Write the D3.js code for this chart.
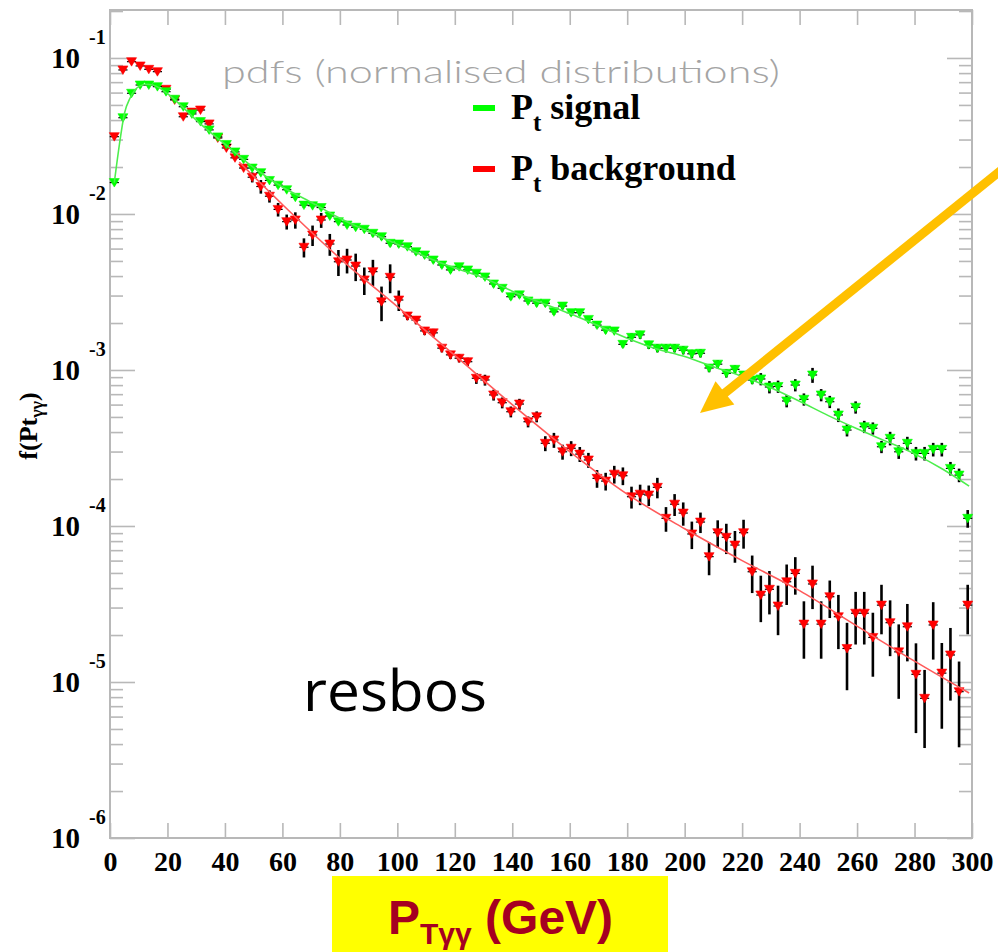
<!DOCTYPE html>
<html><head><meta charset="utf-8">
<script src="https://cdn.jsdelivr.net/npm/d3@7/dist/d3.min.js"></script>
<style>body{margin:0;background:#fff}svg{display:block}</style>
</head><body>
<svg id="chart" width="998" height="952"></svg>
<script>
// ---------- data ----------
const ptBins = [1.5,4.5,7.5,10.5,13.5,16.5,19.5,22.5,25.5,28.5,31.5,34.5,37.5,40.5,43.5,46.5,49.5,52.5,55.5,58.5,
 61.5,64.5,67.5,70.5,73.5,76.5,79.5,82.5,85.5,88.5,91.5,94.5,97.5,100.5,103.5,106.5,109.5,112.5,115.5,118.5,
 121.5,124.5,127.5,130.5,133.5,136.5,139.5,142.5,145.5,148.5,151.5,154.5,157.5,160.5,163.5,166.5,169.5,172.5,175.5,178.5,
 181.5,184.5,187.5,190.5,193.5,196.5,199.5,202.5,205.5,208.5,211.5,214.5,217.5,220.5,223.5,226.5,229.5,232.5,235.5,238.5,
 241.5,244.5,247.5,250.5,253.5,256.5,259.5,262.5,265.5,268.5,271.5,274.5,277.5,280.5,283.5,286.5,289.5,292.5,295.5,298.5];

const signalValues = [0.0159,0.0414,0.0594,0.0671,0.0671,0.0655,0.0608,0.0544,0.0487,0.0438,
 0.0391,0.0346,0.0312,0.0279,0.0250,0.0224,0.0197,0.0184,0.0164,0.0153,
 0.0143,0.0128,0.0114,0.0113,0.0110,0.00971,0.00893,0.00850,0.00822,0.00798,
 0.00752,0.00715,0.00649,0.00642,0.00617,0.00573,0.00546,0.00507,0.00471,0.00438,
 0.00459,0.00438,0.00417,0.00395,0.00356,0.00334,0.00295,0.00303,0.00277,0.00268,
 0.00268,0.00236,0.00257,0.00233,0.00233,0.00211,0.00194,0.00180,0.00178,0.00146,
 0.00162,0.00168,0.00145,0.00138,0.00138,0.00138,0.00134,0.00127,0.00128,0.00103,
 0.00109,0.000952,0.00101,0.000929,0.000863,0.000876,0.000778,0.000784,0.000633,0.000801,
 0.000649,0.000929,0.000692,0.000626,0.000515,0.000412,0.000577,0.000433,0.000423,0.000322,
 0.000365,0.000299,0.000339,0.000292,0.000292,0.000310,0.000310,0.000234,0.000212,0.000112];

const signalRelErr = [0.035,0.035,0.035,0.035,0.035,0.035,0.035,0.035,0.035,0.035,
 0.035,0.035,0.035,0.035,0.035,0.035,0.035,0.035,0.035,0.035,
 0.035,0.035,0.035,0.035,0.035,0.035,0.035,0.035,0.035,0.035,
 0.045,0.045,0.045,0.045,0.045,0.045,0.045,0.045,0.045,0.045,
 0.045,0.045,0.045,0.045,0.045,0.045,0.045,0.045,0.045,0.045,
 0.045,0.045,0.045,0.045,0.045,0.045,0.045,0.045,0.045,0.045,
 0.06,0.06,0.06,0.06,0.06,0.06,0.06,0.06,0.06,0.06,
 0.06,0.06,0.06,0.06,0.06,0.09,0.09,0.09,0.09,0.09,
 0.09,0.11,0.09,0.09,0.10,0.09,0.09,0.09,0.09,0.09,
 0.10,0.10,0.10,0.10,0.10,0.10,0.10,0.10,0.10,0.13];

const backgroundValues = [0.0313,0.0838,0.0947,0.0889,0.0846,0.0817,0.0630,0.0538,0.0420,0.0450,
 0.0464,0.0378,0.0307,0.0265,0.0229,0.0197,0.0172,0.0150,0.0130,0.0107,
 0.00893,0.00915,0.00612,0.00733,0.00915,0.00642,0.00494,0.00507,0.00464,0.00378,
 0.00427,0.00274,0.00393,0.00281,0.00222,0.00209,0.00178,0.00173,0.00138,0.00125,
 0.00119,0.00113,0.000885,0.000863,0.000692,0.000617,0.000540,0.000605,0.000466,0.000502,
 0.000339,0.000356,0.000299,0.000315,0.000289,0.000265,0.000202,0.000194,0.000215,0.000210,
 0.000154,0.000160,0.000158,0.000177,0.000112,0.000138,0.000121,0.0000889,0.000106,0.0000636,
 0.0000906,0.0000847,0.0000755,0.0000906,0.0000509,0.0000361,0.0000393,0.0000307,0.0000439,0.0000497,
 0.0000235,0.0000425,0.0000235,0.0000352,0.0000262,0.0000164,0.0000276,0.0000276,0.0000193,0.0000311,
 0.0000240,0.0000156,0.0000226,0.0000112,0.00000786,0.0000232,0.0000114,0.0000149,0.00000867,0.0000311];

const backgroundRelErr = [0.03,0.03,0.03,0.03,0.03,0.03,0.03,0.03,0.03,0.03,
 0.03,0.03,0.03,0.03,0.03,0.03,0.074,0.10,0.09,0.10,
 0.11,0.12,0.14,0.15,0.11,0.16,0.19,0.18,0.20,0.20,
 0.19,0.25,0.21,0.15,0.06,0.06,0.06,0.06,0.06,0.06,
 0.06,0.06,0.08,0.08,0.08,0.08,0.08,0.08,0.08,0.08,
 0.11,0.11,0.11,0.11,0.11,0.11,0.13,0.13,0.13,0.13,
 0.16,0.15,0.15,0.15,0.18,0.16,0.17,0.20,0.15,0.24,
 0.20,0.22,0.23,0.21,0.27,0.33,0.31,0.35,0.29,0.27,
 0.40,0.31,0.40,0.27,0.38,0.46,0.37,0.37,0.44,0.35,
 0.39,0.50,0.40,0.58,0.52,0.40,0.56,0.49,0.56,0.35];

// fitted curves
const signalFitPt = [1.5,3.5,5,7,10,13,16,20,25,30,40,50,60,70,80,90,100,110,120,130,140,150,160,170,180,190,200,210,220,230,240,250,260,270,280,290,299];
const signalFitVal = [0.0159,0.0298,0.044,0.0554,0.0655,0.0678,0.066,0.059,0.049,0.040,0.028,0.0198,0.0149,0.0119,0.0094,0.0077,0.0064,0.0053,0.0045,0.0039,0.0032,0.0027,0.0023,0.00192,0.00160,0.00137,0.00122,0.00105,0.00091,0.00077,0.00063,0.00051,0.00042,0.00035,0.00029,0.00023,0.000180];
const backgroundFitPt = [45,60,80,100,120,140,160,180,200,220,240,260,280,299];
const backgroundFitVal = [0.0215,0.0115,0.0052,0.00255,0.00124,0.00060,0.000300,0.000160,0.0000960,0.0000600,0.0000385,0.0000228,0.0000136,0.0000085];

const xTickValues = [0,20,40,60,80,100,120,140,160,180,200,220,240,260,280,300];
const yDecades = [1e-1,1e-2,1e-3,1e-4,1e-5,1e-6];
const yExponents = ["-1","-2","-3","-4","-5","-6"];

const titleText = "pdfs (normalised distributions)";
const legendLabels = ["signal","background"];
const legendColors = ["#00ff00","#ff0000"];

// ---------- drawing ----------
const svg = d3.select("#chart");
const L = 110, R = 972, T = 10, B = 838;
const x = d3.scaleLinear().domain([0,300]).range([L,R]);
const y = d3.scaleLog().domain([1e-6,0.203]).range([B,T]);

svg.append("rect").attr("width",998).attr("height",952).attr("fill","#fff");

const axisColor = "#b8b8b8";
function styleAxis(g){
  g.select(".domain").remove();
  g.selectAll(".tick line").attr("stroke",axisColor).attr("stroke-width",1.6);
}
const minorTicks = y.ticks().filter(v => yDecades.indexOf(v) < 0 && v <= 0.203 && v >= 1e-6);

// left axis
svg.append("g").attr("transform",`translate(${L},0)`)
  .call(d3.axisLeft(y).tickValues(yDecades).tickSize(-25).tickFormat("")).call(styleAxis);
svg.append("g").attr("transform",`translate(${L},0)`)
  .call(d3.axisLeft(y).tickValues(minorTicks).tickSize(-13).tickFormat("")).call(styleAxis);
// right axis
svg.append("g").attr("transform",`translate(${R},0)`)
  .call(d3.axisRight(y).tickValues(yDecades).tickSize(-25).tickFormat("")).call(styleAxis);
svg.append("g").attr("transform",`translate(${R},0)`)
  .call(d3.axisRight(y).tickValues(minorTicks).tickSize(-13).tickFormat("")).call(styleAxis);
// top axis
svg.append("g").attr("transform",`translate(0,${T})`)
  .call(d3.axisTop(x).tickValues(xTickValues).tickSize(-15).tickFormat("")).call(styleAxis);
// bottom axis
const xb = svg.append("g").attr("transform",`translate(0,${B})`)
  .call(d3.axisBottom(x).tickValues(xTickValues).tickSize(-15).tickPadding(13).tickFormat(d3.format("d")))
  .call(styleAxis);
xb.selectAll(".tick text").attr("fill","#000")
  .attr("font-family","'Liberation Serif', 'Times New Roman', serif")
  .attr("font-weight","bold").attr("font-size",28);

// frame
svg.append("rect").attr("x",L).attr("y",T).attr("width",R-L).attr("height",B-T)
  .attr("fill","none").attr("stroke",axisColor).attr("stroke-width",2);

// y labels 10^-k
const ylab = svg.append("g").attr("font-family","'Liberation Serif', 'Times New Roman', serif").attr("font-weight","bold").attr("fill","#000");
yDecades.forEach((v,i)=>{
  ylab.append("text").attr("x",80).attr("y",y(v)+10).attr("text-anchor","end").attr("font-size",29).text("10");
  ylab.append("text").attr("x",89).attr("y",y(v)-14).attr("font-size",20).text(yExponents[i]);
});

// y axis title
svg.append("text").attr("transform","translate(37,426) rotate(-90)")
  .attr("text-anchor","middle").attr("font-family","'Liberation Serif', 'Times New Roman', serif")
  .attr("font-weight","bold").attr("font-size",26).attr("fill","#000")
  .call(t=>{
    t.append("tspan").text("f(Pt");
    t.append("tspan").attr("font-size",18).attr("dy",6).text("γγ");
    t.append("tspan").attr("dy",-6).text(")");
  });

// title
svg.append("text").attr("x",222).attr("y",83).attr("font-family","Lato, 'Liberation Sans', Arial, sans-serif")
  .attr("font-weight",300)
  .attr("font-size",31).attr("fill","#a4a4a4").attr("textLength",558).attr("lengthAdjust","spacingAndGlyphs")
  .text(titleText);

// series
function drawSeries(vals, errs, color){
  const data = ptBins.map((p,i)=>({pt:p, v:vals[i], e:vals[i]*errs[i]}));
  const g = svg.append("g");
  g.selectAll("line.ev").data(data).join("line").attr("class","ev")
    .attr("x1",d=>x(d.pt)).attr("x2",d=>x(d.pt))
    .attr("y1",d=>y(d.v+d.e)).attr("y2",d=>y(Math.max(d.v-d.e,1.01e-6)))
    .attr("stroke","#000").attr("stroke-width",2.6);
  g.selectAll("line.eh").data(data).join("line").attr("class","eh")
    .attr("x1",d=>x(d.pt-1.6)).attr("x2",d=>x(d.pt+1.6))
    .attr("y1",d=>y(d.v)).attr("y2",d=>y(d.v))
    .attr("stroke","#000").attr("stroke-width",1.2);
  g.selectAll("path.m").data(data).join("path").attr("class","m")
    .attr("d",d=>{const cx=x(d.pt), cy=y(d.v); return `M${cx-5},${cy-4}L${cx+5},${cy-4}L${cx},${cy+4.5}Z`;})
    .attr("fill",color).attr("stroke",color).attr("stroke-width",0.6);
}
drawSeries(backgroundValues, backgroundRelErr, "#ff0000");
drawSeries(signalValues, signalRelErr, "#00ff00");

// fits
const line = d3.line().x(d=>x(d[0])).y(d=>y(d[1])).curve(d3.curveMonotoneX);
svg.append("path").attr("d", line(backgroundFitPt.map((p,i)=>[p,backgroundFitVal[i]])))
  .attr("fill","none").attr("stroke","#ff5a5a").attr("stroke-width",1.6);
svg.append("path").attr("d", line(signalFitPt.map((p,i)=>[p,signalFitVal[i]])))
  .attr("fill","none").attr("stroke","#4dee4d").attr("stroke-width",1.6);

// legend
const leg = svg.append("g");
legendLabels.forEach((lab,i)=>{
  const yy = 108 + i*61;
  leg.append("line").attr("x1",473).attr("x2",495).attr("y1",yy).attr("y2",yy)
    .attr("stroke",legendColors[i]).attr("stroke-width",6);
  leg.append("text").attr("x",511).attr("y",yy+11)
    .attr("font-family","'Liberation Serif', 'Times New Roman', serif").attr("font-weight","bold")
    .attr("font-size",36).attr("fill","#000")
    .call(t=>{
      t.append("tspan").text("P");
      t.append("tspan").attr("font-size",25).attr("dy",12).text("t");
      t.append("tspan").attr("dy",-12).text(" " + lab);
    });
});

// resbos label
svg.append("text").attr("x",303).attr("y",711).attr("font-family","'Open Sans', 'DejaVu Sans', sans-serif")
  .attr("font-size",57).attr("fill","#000").attr("textLength",184).attr("lengthAdjust","spacingAndGlyphs").text("resbos");

// x axis title box
svg.append("rect").attr("x",332).attr("y",876).attr("width",336).attr("height",76).attr("fill","#ffff00");
svg.append("text").attr("x",388).attr("y",934)
  .attr("font-family","'Liberation Sans', Arial, sans-serif").attr("font-weight","bold")
  .attr("font-size",48).attr("fill","#a50021")
  .call(t=>{
    t.append("tspan").text("P");
    t.append("tspan").attr("font-size",30).attr("dy",10).text("Tγγ");
    t.append("tspan").attr("dy",-10).text(" (GeV)");
  });

// annotation arrow
const tip = [700,413], tail = [1004,168];
const dx = tail[0]-tip[0], dy = tail[1]-tip[1], len = Math.hypot(dx,dy);
const ux = dx/len, uy = dy/len, px = -uy, py = ux;
const hl = 32, hw = 15;
const base = [tip[0]+ux*hl, tip[1]+uy*hl];
svg.append("line").attr("x1",tail[0]).attr("y1",tail[1]).attr("x2",base[0]-ux*2).attr("y2",base[1]-uy*2)
  .attr("stroke","#ffc000").attr("stroke-width",9);
svg.append("path").attr("d",`M${tip[0]},${tip[1]}L${base[0]+px*hw},${base[1]+py*hw}L${base[0]-px*hw},${base[1]-py*hw}Z`)
  .attr("fill","#ffc000");
</script>
</body></html>
